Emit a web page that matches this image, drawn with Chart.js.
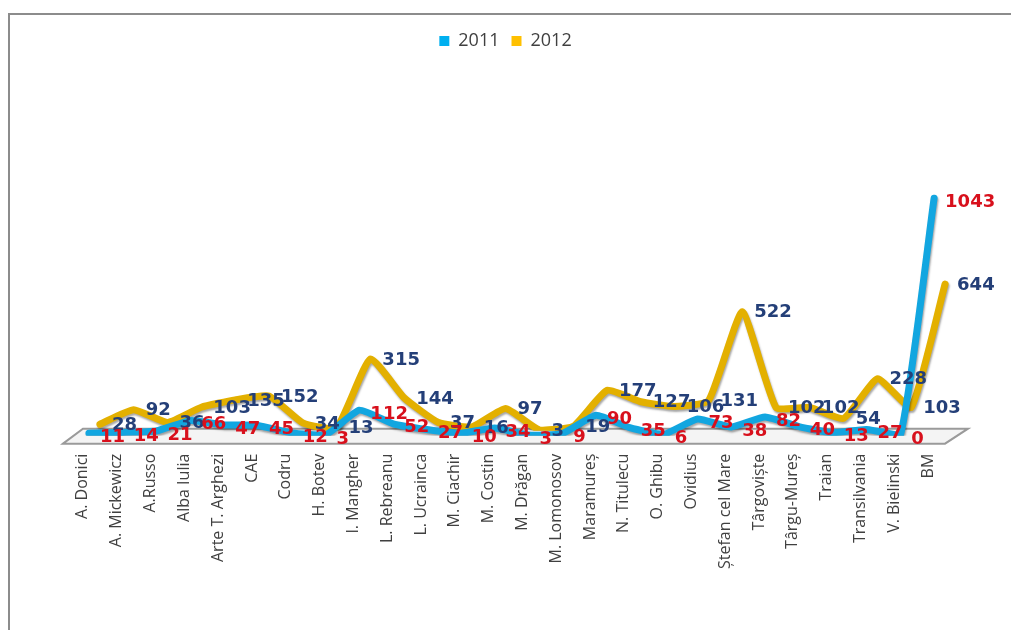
<!DOCTYPE html>
<html>
<head>
<meta charset="utf-8">
<script src="https://cdn.jsdelivr.net/npm/chart.js@4.4.1/dist/chart.umd.min.js"></script>
<style>
  html, body { margin: 0; padding: 0; background: #fff; }
  #wrap { position: relative; width: 1011px; height: 630px; overflow: hidden; }
  #frame { position: absolute; left: 8px; top: 13px; right: 0; bottom: -5px;
           border-left: 2px solid #8c8c8c; border-top: 2px solid #8c8c8c; }
  canvas { position: absolute; left: 0; top: 0; }
</style>
</head>
<body>
<div id="wrap">
  <div id="frame"></div>
  <canvas id="chart" width="1011" height="630"></canvas>
</div>
<script>
// ─── DATA ────────────────────────────────────────────────────────────────────
const schools = [
  'A. Donici', 'A. Mickewicz', 'A.Russo', 'Alba Iulia', 'Arte T. Arghezi', 'CAE',
  'Codru', 'H. Botev', 'I. Mangher', 'L. Rebreanu', 'L. Ucrainca', 'M. Ciachir',
  'M. Costin', 'M. Drăgan', 'M. Lomonosov', 'Maramureș', 'N. Titulecu', 'O. Ghibu',
  'Ovidius', 'Ștefan cel Mare', 'Târgoviște', 'Târgu-Mureș', 'Traian',
  'Transilvania', 'V. Bielinski', 'BM'
];
const values2011 = [11, 14, 21, 66, 47, 45, 12, 3, 112, 52, 27, 10, 34, 3, 9, 90, 35, 6, 73, 38, 82, 40, 13, 27, 0, 1043];
const values2012 = [28, 92, 36, 103, 135, 152, 34, 13, 315, 144, 37, 16, 97, 3, 19, 177, 127, 106, 131, 522, 102, 102, 54, 228, 103, 644];

const COL_2011 = '#12a6e0';
const COL_2012 = '#e3b000';
const LBL_2011 = '#d8101c';
const LBL_2012 = '#243f78';

// fake depth: the back series (2012) sits further right and higher than the front one
const depth = [{ dx: 6, dy: 0 }, { dx: 17, dy: -5 }];

// grey 3D "floor" under the lines
const floorPlugin = {
  id: 'floor',
  beforeDatasetsDraw(chart) {
    const { ctx, chartArea: a } = chart;
    const front = a.bottom + 8, back = a.bottom - 7;
    ctx.save();
    ctx.beginPath();
    ctx.moveTo(a.left - 3, front);
    ctx.lineTo(a.left + 17, back);
    ctx.lineTo(a.right + 23, back);
    ctx.lineTo(a.right, front);
    ctx.closePath();
    ctx.fillStyle = '#f4f4f4';
    ctx.fill();
    ctx.lineWidth = 2;
    ctx.strokeStyle = '#9a9a9a';
    ctx.stroke();
    ctx.restore();
  }
};

// shift each series for depth + soft shadow so the thick lines look like ribbons
const ribbonPlugin = {
  id: 'ribbon',
  beforeDatasetDraw(chart, args) {
    const ctx = chart.ctx;
    const d = depth[args.index];
    ctx.save();
    ctx.translate(d.dx, d.dy);
    ctx.shadowColor = 'rgba(0,0,0,0.35)';
    ctx.shadowOffsetX = 1;
    ctx.shadowOffsetY = 2;
    ctx.shadowBlur = 2;
  },
  afterDatasetDraw(chart) {
    chart.ctx.restore();
  }
};

// value labels next to each point
const valueLabels = {
  id: 'valueLabels',
  afterDatasetsDraw(chart) {
    const ctx = chart.ctx;
    ctx.save();
    ctx.font = 'bold 18px "DejaVu Sans", Verdana, sans-serif';
    ctx.textAlign = 'left';
    ctx.textBaseline = 'middle';
    // 2012 first so the red 2011 numbers sit on top like in the original
    [1, 0].forEach(di => {
      const meta = chart.getDatasetMeta(di);
      const ds = chart.data.datasets[di];
      const d = depth[di];
      ctx.fillStyle = di === 0 ? LBL_2011 : LBL_2012;
      meta.data.forEach((pt, i) => {
        const ox = di === 0 ? 11 : 12;
        const oy = di === 0 ? 4 : 1;
        ctx.fillText(String(ds.data[i]), pt.x + d.dx + ox, pt.y + d.dy + oy);
      });
    });
    ctx.restore();
  }
};

new Chart(document.getElementById('chart').getContext('2d'), {
  type: 'line',
  data: {
    labels: schools,
    datasets: [
      { label: '2011', data: values2011, borderColor: COL_2011, backgroundColor: '#00b0f0',
        borderWidth: 7, pointRadius: 0, tension: 0.15, borderJoinStyle: 'round', borderCapStyle: 'round' },
      { label: '2012', data: values2012, borderColor: COL_2012, backgroundColor: '#ffc000',
        borderWidth: 7, pointRadius: 0, tension: 0.15, borderJoinStyle: 'round', borderCapStyle: 'round' }
    ]
  },
  options: {
    responsive: false,
    animation: false,
    layout: { padding: { left: 66, right: 66, top: 20, bottom: 51 } },
    plugins: {
      legend: {
        display: true,
        position: 'top',
        labels: {
          color: '#404040',
          font: { size: 18, family: '"Open Sans", sans-serif' },
          boxWidth: 10,
          boxHeight: 10,
          padding: 12,
          generateLabels: chart => chart.data.datasets.map((ds, i) => ({
            text: ds.label, fillStyle: ds.backgroundColor, strokeStyle: ds.backgroundColor,
            lineWidth: 0, datasetIndex: i, fontColor: '#404040'
          }))
        }
      },
      tooltip: { enabled: false }
    },
    scales: {
      x: {
        offset: true,
        grid: { display: false },
        border: { display: false },
        ticks: {
          color: '#404040',
          font: { size: 16, family: '"Open Sans", sans-serif' },
          minRotation: 90,
          maxRotation: 90,
          padding: 10,
          autoSkip: false
        }
      },
      y: {
        display: false,
        min: 0,
        max: 1650
      }
    }
  },
  plugins: [floorPlugin, ribbonPlugin, valueLabels]
});
</script>
</body>
</html>
